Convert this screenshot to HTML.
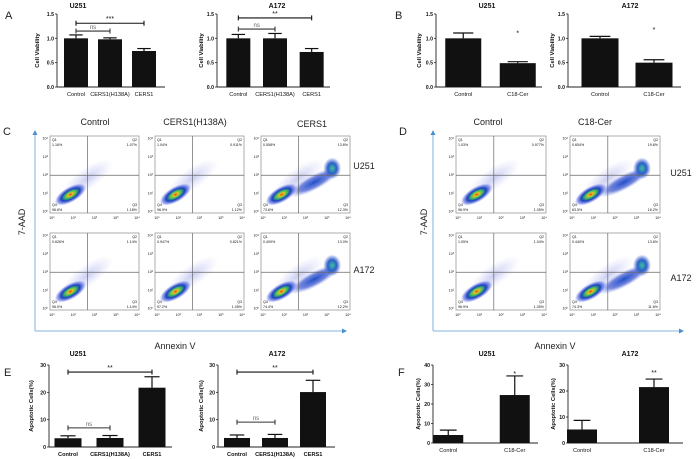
<!DOCTYPE html>
<html><head><meta charset="utf-8"><style>
body{margin:0;background:#fff}
svg{display:block;font-family:"Liberation Sans",Arial,sans-serif}
</style></head><body>
<svg id="fig" width="700" height="459" viewBox="0 0 700 459" xmlns="http://www.w3.org/2000/svg">
<defs>
<radialGradient id="dens" cx="0.5" cy="0.5" r="0.5">
<stop offset="0" stop-color="#e0201a"/>
<stop offset="0.15" stop-color="#f0c020"/>
<stop offset="0.35" stop-color="#40c060"/>
<stop offset="0.58" stop-color="#1a3fc0"/>
<stop offset="0.82" stop-color="#4a5ee0" stop-opacity="0.55"/>
<stop offset="1" stop-color="#8a9af0" stop-opacity="0"/>
</radialGradient>
<radialGradient id="tail" cx="0.5" cy="0.5" r="0.5">
<stop offset="0" stop-color="#2050c8"/>
<stop offset="0.6" stop-color="#3a55d0" stop-opacity="0.7"/>
<stop offset="1" stop-color="#8a9af0" stop-opacity="0"/>
</radialGradient>
<radialGradient id="spot" cx="0.5" cy="0.5" r="0.5">
<stop offset="0" stop-color="#40c0a0"/>
<stop offset="0.5" stop-color="#2a60c8"/>
<stop offset="1" stop-color="#3a55d0" stop-opacity="0"/>
</radialGradient>
<radialGradient id="haze" cx="0.5" cy="0.5" r="0.5">
<stop offset="0" stop-color="#8890e0" stop-opacity="0.45"/>
<stop offset="1" stop-color="#aab0f0" stop-opacity="0"/>
</radialGradient>
</defs>
</svg>
<script>
// ---------- Bar chart data ----------
const catsCers = ["Control","CERS1(H138A)","CERS1"];
const catsCer = ["Control","C18-Cer"];
const vA_U251 = [1.0, 0.98, 0.74];
const eA_U251 = [0.07, 0.03, 0.05];
const vA_A172 = [1.0, 1.0, 0.72];
const eA_A172 = [0.08, 0.1, 0.07];
const vB_U251 = [1.0, 0.49];
const eB_U251 = [0.11, 0.03];
const vB_A172 = [1.0, 0.5];
const eB_A172 = [0.04, 0.06];
const vE_U251 = [3.2, 3.3, 21.7];
const eE_U251 = [0.9, 0.9, 4.0];
const vE_A172 = [3.3, 3.3, 20.1];
const eE_A172 = [1.1, 1.3, 4.3];
const vF_U251 = [4.1, 24.6];
const eF_U251 = [2.5, 9.8];
const vF_A172 = [5.2, 21.5];
const eF_A172 = [3.5, 3.1];
const ticksViab = [0, 0.5, 1.0, 1.5];
const tickLabViab = ["0.0","0.5","1.0","1.5"];
const ticks30 = [0, 10, 20, 30];
const ticks40 = [0, 10, 20, 30, 40];
const sigA_U251 = [[0,2,"***",1.31],[0,1,"ns",1.15]];
const sigA_A172 = [[0,2,"**",1.42],[0,1,"ns",1.19]];
const sigE_U251 = [[0,2,"**",27.4],[0,1,"ns",7.0]];
const sigE_A172 = [[0,2,"**",27.4],[0,1,"ns",9.1]];
const starB_U251 = ["*",1.1];
const starB_A172 = ["*",1.17];
const starF_U251 = ["*",35.5];
const starF_A172 = ["**",26.9];

// ---------- Flow cytometry quadrant data ----------
const flowC = [
 [["1.16%","1.07%","96.6%","1.18%"],["1.04%","0.911%","96.9%","1.12%"],["0.558%","13.6%","73.6%","12.3%"]],
 [["0.626%","1.14%","96.0%","1.14%"],["0.947%","0.821%","97.2%","1.05%"],["0.409%","13.0%","74.4%","12.2%"]]
];
const flowD = [
 [["1.03%","0.977%","96.9%","1.05%"],["0.654%","19.6%","63.5%","16.2%"]],
 [["1.05%","1.04%","96.9%","1.05%"],["0.440%","13.6%","74.3%","11.6%"]]
];

const svg = document.getElementById('fig');
const NS = "http://www.w3.org/2000/svg";
function mk(tag, attrs, parent){
  const e = document.createElementNS(NS, tag);
  for (const k in attrs) e.setAttribute(k, attrs[k]);
  (parent||svg).appendChild(e);
  return e;
}
function txt(s, x, y, size, opts, parent){
  const t = mk('text', Object.assign({x:x, y:y, 'font-size':size, fill:'#111'}, opts||{}), parent);
  t.textContent = s;
  return t;
}

function barChart(name, cfg, cats, vals, errs){
  const g = mk('g', {});
  
  
  const ys = v => cfg.y0 - (v/cfg.max)*(cfg.y0-cfg.yTop);
  const step = (cfg.end-cfg.start)/cats.length;
  const xc = i => cfg.start + (i+0.5)*step;
  const ya = mk('line', {x1:cfg.ax, y1:cfg.yTop, x2:cfg.ax, y2:cfg.y0, stroke:'#222','stroke-width':0.9}, g);
  
  
  const xa = mk('line', {x1:cfg.ax, y1:cfg.y0, x2:cfg.axEnd, y2:cfg.y0, stroke:'#222','stroke-width':0.9}, g);
  
  
  cfg.ticks.forEach((t,i)=>{
    mk('line',{x1:cfg.ax-2,y1:ys(t),x2:cfg.ax,y2:ys(t),stroke:'#222','stroke-width':0.8},g);
    const tl = txt(cfg.tickLab?cfg.tickLab[i]:String(t), cfg.ax-3, ys(t)+2, 5.2, {'text-anchor':'end','font-weight':'bold'}, g);
    
    
  });
  cats.forEach((c,i)=>{
    const x = xc(i);
    const b = mk('rect',{x:x-cfg.bw/2, y:ys(vals[i]), width:cfg.bw, height:cfg.y0-ys(vals[i]), fill:'#111'}, g);
    
    
    const top = ys(vals[i]+errs[i]);
    mk('line',{x1:x,y1:ys(vals[i]),x2:x,y2:top,stroke:'#111','stroke-width':1.2},g);
    mk('line',{x1:x-cfg.bw*0.28,y1:top,x2:x+cfg.bw*0.28,y2:top,stroke:'#111','stroke-width':1.2},g);
    const cl = txt(c, x, cfg.y0+9, 5.6, {'text-anchor':'middle','font-weight':cfg.boldCats?'bold':'normal'}, g);
    
    
  });
  const tt = txt(cfg.title, cfg.titleX, cfg.titleY, 7, {'text-anchor':'middle','font-weight':'bold'}, g);
  
  
  const yl = txt(cfg.ylabel, 0, 0, 5.8, {'text-anchor':'middle','font-weight':'bold',transform:`translate(${cfg.ylx},${(cfg.yTop+cfg.y0)/2}) rotate(-90)`}, g);
  
  
  (cfg.sig||[]).forEach(s=>{
    const y = ys(s[3]), x1 = xc(s[0]), x2 = xc(s[1]);
    const col = s[2]==='ns' ? '#333':'#111';
    mk('line',{x1:x1,y1:y,x2:x2,y2:y,stroke:col,'stroke-width':1.1},g);
    mk('line',{x1:x1,y1:y-2.5,x2:x1,y2:y+2.5,stroke:col,'stroke-width':1.1},g);
    mk('line',{x1:x2,y1:y-2.5,x2:x2,y2:y+2.5,stroke:col,'stroke-width':1.1},g);
    const sl = txt(s[2], (x1+x2)/2, y-2, s[2]==='ns'?6:7, {'text-anchor':'middle','fill':s[2]==='ns'?'#666':'#111'}, g);
    
    
  });
  if (cfg.star){
    const st = txt(cfg.star[0], xc(1), ys(cfg.star[1])+2, 7, {'text-anchor':'middle'}, g);
    
    
  }
}

barChart('chart-a-u251',{ax:57,axEnd:165,start:59,end:161,bw:24,y0:87,yTop:14,max:1.5,ticks:ticksViab,tickLab:tickLabViab,title:'U251',titleX:78,titleY:8,ylabel:'Cell Viability',ylx:39,sig:sigA_U251},catsCers,vA_U251,eA_U251);
barChart('chart-a-a172',{ax:217,axEnd:330,start:220,end:330,bw:24,y0:87,yTop:14,max:1.5,ticks:ticksViab,tickLab:tickLabViab,title:'A172',titleX:277,titleY:8,ylabel:'Cell Viability',ylx:203,sig:sigA_A172},catsCers,vA_A172,eA_A172);
barChart('chart-b-u251',{ax:436,axEnd:542,start:436,end:545,bw:36,y0:87,yTop:14,max:1.5,ticks:ticksViab,tickLab:tickLabViab,title:'U251',titleX:487,titleY:8,ylabel:'Cell Viability',ylx:421,star:starB_U251},catsCer,vB_U251,eB_U251);
barChart('chart-b-a172',{ax:568,axEnd:681,start:573,end:681,bw:37,y0:87,yTop:14,max:1.5,ticks:ticksViab,tickLab:tickLabViab,title:'A172',titleX:630,titleY:8,ylabel:'Cell Viability',ylx:554,star:starB_A172},catsCer,vB_A172,eB_A172);
barChart('chart-e-u251',{ax:49,axEnd:172,start:47,end:173,bw:27,y0:447,yTop:365,max:30,ticks:ticks30,title:'U251',titleX:78,titleY:356,ylabel:'Apoptotic Cells(%)',ylx:33,sig:sigE_U251,boldCats:true},catsCers,vE_U251,eE_U251);
barChart('chart-e-a172',{ax:218,axEnd:335,start:218,end:332,bw:26,y0:447,yTop:365,max:30,ticks:ticks30,title:'A172',titleX:277,titleY:356,ylabel:'Apoptotic Cells(%)',ylx:203,sig:sigE_A172,boldCats:true},catsCers,vE_A172,eE_A172);
barChart('chart-f-u251',{ax:433,axEnd:538,start:415,end:548,bw:30,y0:443,yTop:365,max:40,ticks:ticks40,title:'U251',titleX:487,titleY:356,ylabel:'Apoptotic Cells(%)',ylx:420,star:starF_U251},catsCer,vF_U251,eF_U251);
barChart('chart-f-a172',{ax:568,axEnd:683,start:546,end:690,bw:30,y0:443,yTop:365,max:30,ticks:ticks30,title:'A172',titleX:630,titleY:356,ylabel:'Apoptotic Cells(%)',ylx:555,star:starF_A172},catsCer,vF_A172,eF_A172);

// ---------- flow plots ----------
function flowPlot(name, x, y, w, h, pct, apoptotic){
  const g = mk('g',{});
  
  
  mk('rect',{x:x,y:y,width:w,height:h,fill:'#fff',stroke:'#999','stroke-width':0.8},g);
  mk('ellipse',{cx:x+w*0.42,cy:y+h*0.55,rx:w*0.34,ry:h*0.14,fill:'url(#haze)',transform:`rotate(-35 ${x+w*0.42} ${y+h*0.55})`},g);
  if (apoptotic){
    mk('ellipse',{cx:x+w*0.6,cy:y+h*0.6,rx:w*0.32,ry:h*0.1,fill:'url(#tail)',transform:`rotate(-28 ${x+w*0.6} ${y+h*0.6})`},g);
    mk('ellipse',{cx:x+w*0.8,cy:y+h*0.42,rx:w*0.1,ry:h*0.14,fill:'url(#spot)'},g);
  }
  mk('ellipse',{cx:x+w*0.23,cy:y+h*0.76,rx:w*0.2,ry:h*0.1,fill:'url(#dens)',transform:`rotate(-30 ${x+w*0.23} ${y+h*0.76})`},g);
  mk('line',{x1:x+w*0.42,y1:y,x2:x+w*0.42,y2:y+h,stroke:'#666','stroke-width':0.7},g);
  mk('line',{x1:x,y1:y+h*0.51,x2:x+w,y2:y+h*0.51,stroke:'#666','stroke-width':0.7},g);
  const fs = 3.6;
  txt('Q1',x+2,y+5,fs,{},g); txt(pct[0],x+2,y+10,fs,{},g);
  txt('Q2',x+w-2,y+5,fs,{'text-anchor':'end'},g); txt(pct[1],x+w-2,y+10,fs,{'text-anchor':'end'},g);
  txt('Q4',x+2,y+h-7,fs,{},g); txt(pct[2],x+2,y+h-2,fs,{},g);
  txt('Q3',x+w-2,y+h-7,fs,{'text-anchor':'end'},g); txt(pct[3],x+w-2,y+h-2,fs,{'text-anchor':'end'},g);
  for (let i=0;i<5;i++){
    txt('10'+['⁰','¹','²','³','⁴'][i], x+2+i*(w-4)/4, y+h+6, 3.6, {'text-anchor':'middle'}, g);
    txt('10'+['⁰','¹','²','³','⁴'][i], x-2, y+h-2-i*(h-4)/4+1.5, 3.6, {'text-anchor':'end'}, g);
  }
}
const cX=[50,155,261], dX=[456,570], rY=[136,233];
flowC.forEach((row,r)=>row.forEach((p,c)=>flowPlot('flow-c-r'+r+'-c'+c,cX[c],rY[r],89,77,p,c===2)));
flowD.forEach((row,r)=>row.forEach((p,c)=>flowPlot('flow-d-r'+r+'-c'+c,dX[c],rY[r],90,77,p,c===1)));

function arrowAxes(name, x0, yTop, yBot, xEnd){
  const g = mk('g',{});
  
  
  mk('line',{x1:x0,y1:yBot,x2:x0,y2:yTop+3,stroke:'#9cc3e6','stroke-width':1.3},g);
  mk('polygon',{points:`${x0-2.5},${yTop+4} ${x0+2.5},${yTop+4} ${x0},${yTop-1}`,fill:'#4a8fd0'},g);
  mk('line',{x1:x0,y1:yBot,x2:xEnd-3,y2:yBot,stroke:'#9cc3e6','stroke-width':1.3},g);
  mk('polygon',{points:`${xEnd-4},${yBot-2.5} ${xEnd-4},${yBot+2.5} ${xEnd+1},${yBot}`,fill:'#4a8fd0'},g);
}
arrowAxes('flow-c-axes',35,131,331,346);
arrowAxes('flow-d-axes',433,131,331,683);

const labels = [
 ['A',5,19,11,'panel-label-a'],['B',395,19,11,'panel-label-b'],['C',3,135,11,'panel-label-c'],['D',399,135,11,'panel-label-d'],
 ['E',4,376,11,'panel-label-e'],['F',398,376,11,'panel-label-f'],
 ['Control',95,125,9,'header-control-c'],['CERS1(H138A)',195,125,9,'header-h138a'],['CERS1',312,127,9,'header-cers1'],
 ['Control',488,125,9,'header-control-d'],['C18-Cer',595,125,9,'header-c18-cer'],
 ['U251',364,169,9,'row-label-c-u251'],['A172',364,273,9,'row-label-c-a172'],
 ['U251',681,176,9,'row-label-d-u251'],['A172',681,281,9,'row-label-d-a172'],
 ['Annexin V',175,349,9,'x-title-annexin-c'],['Annexin V',555,349,9,'x-title-annexin-d']
];
labels.forEach(l=>{
  const t = txt(l[0], l[1], l[2], l[3], {'text-anchor':l[4].startsWith('panel')?'start':'middle', fill:'#222'});
  
  
});
const aad1 = txt('7-AAD',0,0,9,{'text-anchor':'middle',fill:'#222',transform:'translate(25,222) rotate(-90)'});


const aad2 = txt('7-AAD',0,0,9,{'text-anchor':'middle',fill:'#222',transform:'translate(427,222) rotate(-90)'});


</script>
</body></html>
